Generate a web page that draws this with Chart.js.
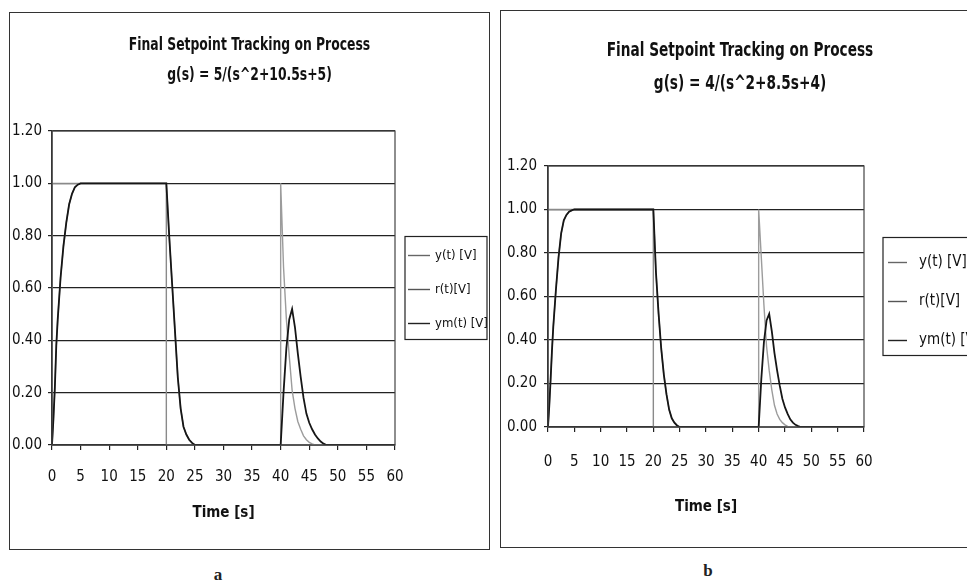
<!DOCTYPE html>
<html>
<head>
<meta charset="utf-8">
<title>Final Setpoint Tracking on Process</title>
<script src="https://cdn.jsdelivr.net/npm/chart.js@4.4.1/dist/chart.umd.min.js"></script>
<style>
  html, body { margin: 0; padding: 0; background: #fff; }
  body { width: 967px; height: 581px; position: relative; overflow: hidden; }
  .panel { position: absolute; border: 1px solid #333; background: #fff; box-sizing: border-box; }
  #panelA { left: 9px; top: 12px; width: 481px; height: 538px; }
  #panelB { left: 500px; top: 10px; width: 490px; height: 538px; }
  .panel canvas { position: absolute; left: 0; top: 0; }
  .caption { position: absolute; transform: translate(-50%, -50%); font: bold 17px "Liberation Serif", "DejaVu Serif", serif; color: #222; }
</style>
</head>
<body>
<div class="panel" id="panelA"><canvas id="chartA" width="479" height="536"></canvas></div>
<div class="panel" id="panelB"><canvas id="chartB" width="478" height="536"></canvas></div>
<div class="caption" style="left:218px; top:575px;">a</div>
<div class="caption" style="left:708px; top:571px;">b</div>
<script>
const FONT = "'Liberation Sans Narrow', 'Arial Narrow', 'DejaVu Sans Condensed', sans-serif";

// axis ticks shared by both plots
const xTicks = [0, 5, 10, 15, 20, 25, 30, 35, 40, 45, 50, 55, 60];
const yTicks = [0, 0.2, 0.4, 0.6, 0.8, 1.0, 1.2];
const seriesNames = ["y(t) [V]", "r(t)[V]", "ym(t) [V]"];

// --- a: g(s) = 5/(s^2+10.5s+5) ---
const titleA = ["Final Setpoint Tracking on Process", "g(s) = 5/(s^2+10.5s+5)"];
const ymTimeA = [0, 0.25, 0.5, 0.75, 1, 1.5, 2, 2.5, 3, 3.5, 4, 4.5, 5,
  20, 20.5, 21, 21.5, 22, 22.5, 23, 23.5, 24, 24.5, 25,
  40, 40.5, 41, 41.5, 42, 42.5, 43, 43.5, 44, 44.5, 45, 45.5, 46, 46.5, 47, 47.5, 48, 60];
const ymA = [0, 0.1, 0.22, 0.38, 0.48, 0.64, 0.76, 0.85, 0.92, 0.96, 0.985, 0.995, 1,
  1, 0.8, 0.62, 0.44, 0.26, 0.14, 0.07, 0.04, 0.02, 0.008, 0,
  0, 0.2, 0.37, 0.48, 0.52, 0.45, 0.35, 0.26, 0.18, 0.12, 0.085, 0.06, 0.04, 0.025, 0.013, 0.005, 0, 0];
const yTimeA = [0, 0.25, 0.5, 0.75, 1, 1.5, 2, 2.5, 3, 3.5, 4, 4.5, 5,
  20, 20.5, 21, 21.5, 22, 22.5, 23, 23.5, 24, 24.5, 25,
  40, 40, 40.5, 41, 41.5, 42, 42.5, 43, 43.5, 44, 44.5, 45, 45.5, 46, 60];
const yA = [0, 0.1, 0.22, 0.38, 0.48, 0.64, 0.76, 0.85, 0.92, 0.96, 0.985, 0.995, 1,
  1, 0.8, 0.62, 0.44, 0.26, 0.14, 0.07, 0.04, 0.02, 0.008, 0,
  0, 1, 0.68, 0.48, 0.34, 0.21, 0.14, 0.09, 0.06, 0.035, 0.02, 0.01, 0.004, 0, 0];
const rTimeA = [0, 0, 20, 20, 60];
const rA = [0, 1, 1, 0, 0];

// --- b: g(s) = 4/(s^2+8.5s+4) ---
const titleB = ["Final Setpoint Tracking on Process", "g(s) = 4/(s^2+8.5s+4)"];
const ymTimeB = [0, 0.25, 0.5, 0.75, 1, 1.5, 2, 2.5, 3, 3.5, 4, 4.5, 5,
  20, 20.5, 21, 21.5, 22, 22.5, 23, 23.5, 24, 24.5, 25,
  40, 40.5, 41, 41.5, 42, 42.5, 43, 43.5, 44, 44.5, 45, 45.5, 46, 46.5, 47, 47.5, 48, 60];
const ymB = [0, 0.1, 0.22, 0.35, 0.46, 0.63, 0.78, 0.89, 0.95, 0.975, 0.99, 0.996, 1,
  1, 0.71, 0.52, 0.36, 0.24, 0.15, 0.08, 0.04, 0.02, 0.007, 0,
  0, 0.22, 0.39, 0.49, 0.52, 0.44, 0.34, 0.26, 0.19, 0.13, 0.09, 0.06, 0.035, 0.02, 0.01, 0.004, 0, 0];
const yTimeB = [0, 0.25, 0.5, 0.75, 1, 1.5, 2, 2.5, 3, 3.5, 4, 4.5, 5,
  20, 20.5, 21, 21.5, 22, 22.5, 23, 23.5, 24, 24.5, 25,
  40, 40, 40.5, 41, 41.5, 42, 42.5, 43, 43.5, 44, 44.5, 45, 45.5, 46, 60];
const yB = [0, 0.1, 0.22, 0.35, 0.46, 0.63, 0.78, 0.89, 0.95, 0.975, 0.99, 0.996, 1,
  1, 0.71, 0.52, 0.36, 0.24, 0.15, 0.08, 0.04, 0.02, 0.007, 0,
  0, 1, 0.78, 0.56, 0.37, 0.26, 0.17, 0.1, 0.06, 0.035, 0.02, 0.01, 0.003, 0, 0];
const rTimeB = [0, 0, 20, 20, 60];
const rB = [0, 1, 1, 0, 0];

Chart.defaults.font.family = FONT;
Chart.defaults.color = "#111";

const toPoints = (ts, vs) => ts.map((t, i) => ({ x: t, y: vs[i] }));

// heading, plot frame and boxed legend drawn straight onto the canvas
const panelDecor = {
  id: "panelDecor",
  afterDraw(chart, args, opts) {
    const { ctx, chartArea: area, width } = chart;
    ctx.save();
    ctx.strokeStyle = "#444";
    ctx.lineWidth = 1.2;
    ctx.strokeRect(area.left, area.top, area.right - area.left, area.bottom - area.top);

    // narrow bold heading, squeezed sideways like the original typeface
    ctx.fillStyle = "#111";
    ctx.textAlign = "center";
    ctx.textBaseline = "middle";
    ctx.font = "bold " + opts.titleSize + "px " + FONT;
    opts.title.forEach((line, i) => {
      ctx.save();
      ctx.translate(width / 2, opts.titleY[i]);
      ctx.scale(opts.titleSquash, 1);
      ctx.fillText(line, 0, 0);
      ctx.restore();
    });

    const lg = opts.legend;
    const bx = area.right + lg.gap;
    const by = (area.top + area.bottom) / 2 - lg.height / 2;
    ctx.strokeStyle = "#222";
    ctx.lineWidth = 1.2;
    ctx.strokeRect(bx, by, lg.width, lg.height);
    ctx.textAlign = "left";
    ctx.font = lg.size + "px " + FONT;
    chart.data.datasets.forEach((ds, i) => {
      const y = by + lg.first + i * lg.step;
      ctx.strokeStyle = ds.legendColor;
      ctx.lineWidth = 1.4;
      ctx.beginPath();
      ctx.moveTo(bx + lg.lineFrom, y);
      ctx.lineTo(bx + lg.lineTo, y);
      ctx.stroke();
      ctx.fillText(ds.label, bx + lg.textX, y);
    });
    ctx.restore();
  }
};

function makeChart(id, series, look) {
  return new Chart(document.getElementById(id), {
    type: "line",
    data: {
      datasets: [
        { label: seriesNames[0], data: toPoints(series.yT, series.y), borderColor: "#9c9c9c", legendColor: "#666", borderWidth: 1.4, order: 2 },
        { label: seriesNames[1], data: toPoints(series.rT, series.r), borderColor: "#8a8a8a", legendColor: "#555", borderWidth: 1.4, order: 3 },
        { label: seriesNames[2], data: toPoints(series.ymT, series.ym), borderColor: "#161616", legendColor: "#222", borderWidth: 1.8, order: 1 }
      ]
    },
    options: {
      responsive: false,
      animation: false,
      devicePixelRatio: 1,
      elements: { point: { radius: 0 }, line: { tension: 0 } },
      layout: { padding: { left: 0, right: look.padRight, top: look.padTop, bottom: 0 } },
      scales: {
        x: {
          type: "linear",
          min: 0,
          max: 60,
          afterBuildTicks: s => { s.ticks = xTicks.map(v => ({ value: v })); },
          afterFit: s => { s.height = look.xHeight; },
          ticks: { autoSkip: false, maxRotation: 0, padding: look.xPad, font: { size: look.tickSize } },
          grid: { drawOnChartArea: false, drawTicks: true, tickLength: 5, color: "#222", lineWidth: 1.2 },
          border: { color: "#222", width: 1.5 },
          title: { display: true, text: "Time [s]", font: { size: look.tickSize, weight: "bold" }, padding: { top: 0, bottom: look.xTitlePad } }
        },
        y: {
          min: 0,
          max: 1.2,
          afterBuildTicks: s => { s.ticks = yTicks.map(v => ({ value: v })); },
          afterFit: s => { s.width = look.yWidth; },
          ticks: { padding: look.yPad, font: { size: look.tickSize }, callback: v => Number(v).toFixed(2) },
          grid: { color: "#222", lineWidth: 1.2, tickLength: 4 },
          border: { color: "#222", width: 1.5 }
        }
      },
      plugins: {
        legend: { display: false },
        tooltip: { enabled: false },
        panelDecor: { title: look.title, titleSize: look.titleSize, titleSquash: look.titleSquash, titleY: look.titleY, legend: look.legend }
      }
    },
    plugins: [panelDecor]
  });
}

makeChart("chartA",
  { yT: yTimeA, y: yA, rT: rTimeA, r: rA, ymT: ymTimeA, ym: ymA },
  {
    title: titleA, titleSize: 17, titleSquash: 0.81, titleY: [33, 63],
    padRight: 94, padTop: 118, xHeight: 104, yWidth: 42,
    xPad: 18, yPad: 6, xTitlePad: 27, tickSize: 15,
    legend: { gap: 10, width: 82, height: 103, first: 19, step: 34, lineFrom: 3, lineTo: 25, textX: 30, size: 13 }
  });

makeChart("chartB",
  { yT: yTimeB, y: yB, rT: rTimeB, r: rB, ymT: ymTimeB, ym: ymB },
  {
    title: titleB, titleSize: 19, titleSquash: 0.8, titleY: [40, 73],
    padRight: 115, padTop: 155, xHeight: 120, yWidth: 47,
    xPad: 21, yPad: 7, xTitlePad: 31, tickSize: 15,
    legend: { gap: 19, width: 120, height: 118, first: 25, step: 39, lineFrom: 5, lineTo: 24, textX: 36, size: 15 }
  });
</script>
</body>
</html>
